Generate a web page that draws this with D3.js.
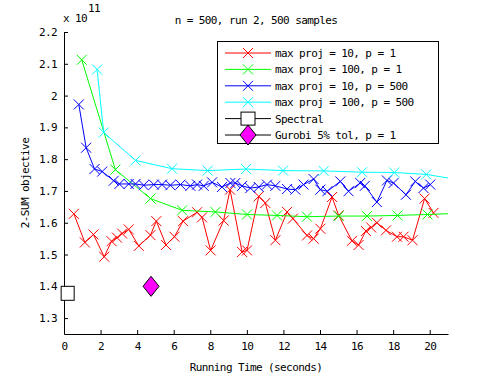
<!DOCTYPE html>
<html>
<head>
<meta charset="utf-8">
<script src="https://cdn.jsdelivr.net/npm/d3@7"></script>
<style>
  body { margin: 0; padding: 0; background: #fff; }
  text { font-family: "DejaVu Sans Mono", monospace; font-size: 11px; letter-spacing: -0.6px; fill: #000; }
</style>
</head>
<body>
<script>
// values in units of 1e11
const redX = [0.54, 1.14, 1.61, 2.20, 2.60, 2.9, 3.18, 3.54, 4.09, 4.73, 5.05, 5.58, 6.04, 6.51, 7.28, 7.55, 8.02, 8.73, 9.08, 9.74, 10.01, 10.65, 11.01, 11.56, 12.2, 12.52, 13.29, 13.65, 14.02, 14.66, 15.02, 15.75, 16.11, 16.51, 16.8, 17.11, 17.61, 18.21, 18.57, 19.06, 19.72, 20.21]
const redY = [1.628, 1.538, 1.563, 1.493, 1.542, 1.553, 1.566, 1.579, 1.527, 1.561, 1.605, 1.530, 1.556, 1.605, 1.633, 1.617, 1.513, 1.607, 1.704, 1.508, 1.513, 1.683, 1.662, 1.545, 1.634, 1.613, 1.560, 1.550, 1.581, 1.681, 1.623, 1.543, 1.530, 1.574, 1.585, 1.600, 1.576, 1.556, 1.556, 1.545, 1.676, 1.631]

const greenX = [0.97, 2.81, 4.73, 6.46, 8.28, 10.01, 11.65, 13.29, 15.02, 16.57, 18.24, 19.88, 21.3]
const greenY = [2.1125, 1.767, 1.676, 1.639, 1.634, 1.626, 1.623, 1.619, 1.621, 1.621, 1.623, 1.626, 1.629]

const blueX = [0.81, 1.21, 1.67, 2.09, 2.72, 3.03, 3.54, 3.91, 4.36, 4.91, 5.36, 5.82, 6.37, 6.91, 7.28, 7.64, 8.10, 8.64, 9.10, 9.37, 9.74, 10.19, 10.65, 11.1, 11.56, 12.2, 12.65, 13.1, 13.65, 14.02, 14.4, 15.11, 15.56, 16.2, 16.45, 17.11, 17.66, 18.02, 18.7, 19.21, 19.66, 20.03]
const blueY = [1.972, 1.836, 1.769, 1.761, 1.732, 1.722, 1.722, 1.722, 1.718, 1.720, 1.720, 1.718, 1.720, 1.716, 1.720, 1.716, 1.727, 1.7125, 1.725, 1.725, 1.716, 1.709, 1.7125, 1.720, 1.716, 1.706, 1.704, 1.720, 1.7375, 1.704, 1.699, 1.730, 1.699, 1.725, 1.716, 1.665, 1.733, 1.725, 1.688, 1.730, 1.709, 1.720]

const cyanX = [1.81, 2.17, 3.91, 5.91, 7.86, 9.95, 11.98, 14.2, 16.3, 18.06, 19.81, 21.3]
const cyanY = [2.082, 1.884, 1.796, 1.770, 1.764, 1.769, 1.764, 1.763, 1.759, 1.758, 1.752, 1.738]

const spectral = [0.2, 1.378]
const gurobi = [4.76, 1.40]

const xTicks = [0, 2, 4, 6, 8, 10, 12, 14, 16, 18, 20]
const yTicks = [1.3, 1.4, 1.5, 1.6, 1.7, 1.8, 1.9, 2.0, 2.1, 2.2]

const series = [
  {name: "max proj = 10, p = 1", color: "#ff0000", xs: redX, ys: redY},
  {name: "max proj = 100, p = 1", color: "#00ff00", xs: greenX, ys: greenY},
  {name: "max proj = 10, p = 500", color: "#0000ff", xs: blueX, ys: blueY},
  {name: "max proj = 100, p = 500", color: "#00ffff", xs: cyanX, ys: cyanY}
]

const width = 495, height = 375
const pLeft = 64, pRight = 448, pTop = 32, pBottom = 334

const svg = d3.select("body").append("svg")
  .attr("width", width)
  .attr("height", height)

const x = d3.scaleLinear().domain([0, 21]).range([pLeft, pRight])
const y = d3.scaleLinear().domain([1.25, 2.2]).range([pBottom, pTop])

svg.append("defs").append("clipPath").attr("id", "clip")
  .append("rect")
  .attr("x", pLeft).attr("y", pTop)
  .attr("width", pRight - pLeft).attr("height", pBottom - pTop)

// axes, ticks pointing inward
svg.append("g")
  .attr("transform", `translate(0,${pBottom})`)
  .call(d3.axisBottom(x).tickValues(xTicks).tickSizeInner(-4).tickSizeOuter(0).tickPadding(8).tickFormat(d3.format("d")))
svg.append("g")
  .attr("transform", `translate(${pLeft},0)`)
  .call(d3.axisLeft(y).tickValues(yTicks).tickSizeInner(-4).tickSizeOuter(0).tickPadding(7).tickFormat(d => d === 2 ? "2" : d3.format(".1f")(d)))
svg.selectAll(".domain").attr("stroke", "#000")
svg.selectAll(".tick line").attr("stroke", "#000")
svg.selectAll(".tick text").style("font-family", "DejaVu Sans Mono").style("font-size", "11px")

const cross = r => `M${-r},${-r}L${r},${r}M${-r},${r}L${r},${-r}`
const line = d3.line().x(d => x(d[0])).y(d => y(d[1]))

const plot = svg.append("g").attr("clip-path", "url(#clip)")

series.forEach(s => {
  const pts = s.xs.map((v, i) => [v, s.ys[i]])
  plot.append("path")
    .attr("d", line(pts))
    .attr("fill", "none")
    .attr("stroke", s.color)
    .attr("stroke-width", 1)
  plot.selectAll(null)
    .data(pts)
    .join("path")
    .attr("transform", d => `translate(${x(d[0])},${y(d[1])})`)
    .attr("d", cross(5))
    .attr("fill", "none")
    .attr("stroke", s.color)
    .attr("stroke-width", 1)
})

// single points, drawn on top of the axis (not clipped)
svg.append("rect")
  .attr("x", x(spectral[0]) - 6.5).attr("y", y(spectral[1]) - 7)
  .attr("width", 13).attr("height", 14)
  .attr("fill", "#fff").attr("stroke", "#000")
const diamond = (w, h) => `M0,${-h}L${w},0L0,${h}L${-w},0Z`
svg.append("path")
  .attr("transform", `translate(${x(gurobi[0])},${y(gurobi[1])})`)
  .attr("d", diamond(8, 10))
  .attr("fill", "#ff00ff").attr("stroke", "#000")

// titles
svg.append("text").attr("x", 256).attr("y", 24).attr("text-anchor", "middle")
  .text("n = 500, run 2, 500 samples")
svg.append("text").attr("x", 63).attr("y", 22).text("x 10")
svg.append("text").attr("x", 88).attr("y", 12).text("11")
svg.append("text").attr("x", 256).attr("y", 371).attr("text-anchor", "middle")
  .text("Running Time (seconds)")
svg.append("text")
  .attr("transform", `translate(29,${(pTop + pBottom) / 2}) rotate(-90)`)
  .attr("text-anchor", "middle")
  .text("2-SUM objective")

// legend
const lg = svg.append("g")
lg.append("rect")
  .attr("x", 217.5).attr("y", 41.5).attr("width", 221).attr("height", 102)
  .attr("fill", "#fff").attr("stroke", "#000")
const rowY = i => 53 + i * 16.4
series.forEach((s, i) => {
  lg.append("line").attr("x1", 225).attr("x2", 271)
    .attr("y1", rowY(i)).attr("y2", rowY(i)).attr("stroke", s.color)
  lg.append("path").attr("transform", `translate(248,${rowY(i)})`)
    .attr("d", cross(5)).attr("fill", "none").attr("stroke", s.color)
  lg.append("text").attr("x", 275).attr("y", rowY(i) + 4).text(s.name)
})
;["Spectral", "Gurobi 5% tol, p = 1"].forEach((name, j) => {
  const i = j + 4
  lg.append("line").attr("x1", 225).attr("x2", 271)
    .attr("y1", rowY(i)).attr("y2", rowY(i)).attr("stroke", "#000")
  if (j === 0) {
    lg.append("rect").attr("x", 241).attr("y", rowY(i) - 6.5).attr("width", 14).attr("height", 13)
      .attr("fill", "#fff").attr("stroke", "#000")
  } else {
    lg.append("path").attr("transform", `translate(248,${rowY(i)})`)
      .attr("d", diamond(8, 10)).attr("fill", "#ff00ff").attr("stroke", "#000")
  }
  lg.append("text").attr("x", 275).attr("y", rowY(i) + 4).text(name)
})
</script>
</body>
</html>
